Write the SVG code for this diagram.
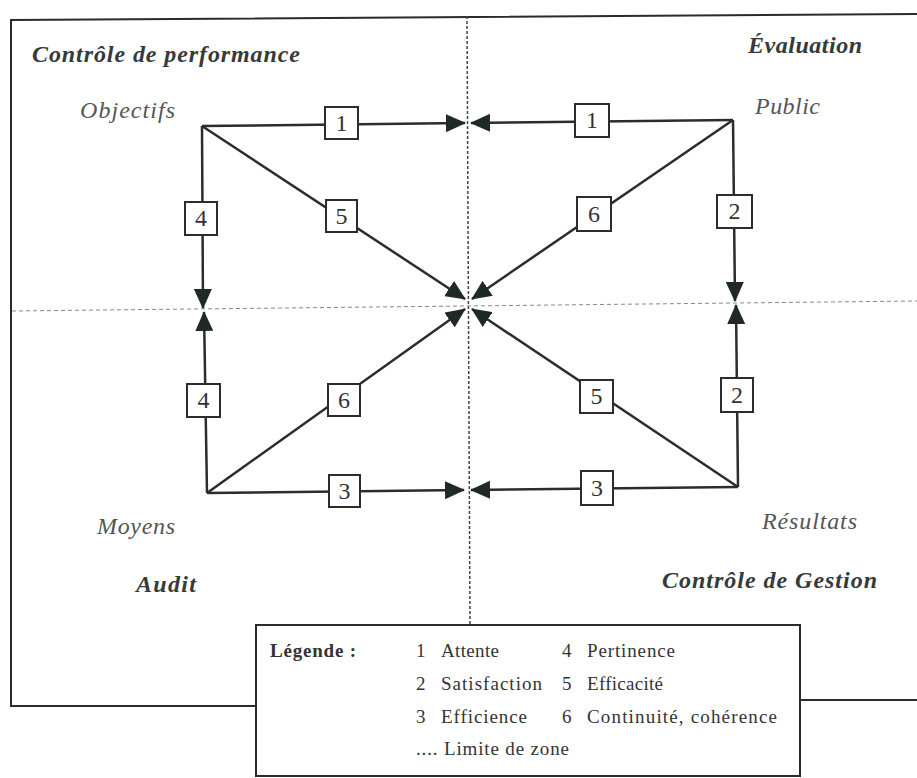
<svg xmlns="http://www.w3.org/2000/svg" width="917" height="778" viewBox="0 0 917 778">
<style>
.frame{fill:none;stroke:#2b2b2b;stroke-width:2}
.zone{fill:none;stroke:#444;stroke-width:1.5;stroke-dasharray:3 2}
.zoneh{fill:none;stroke:#888;stroke-width:1;stroke-dasharray:4 3}
.edge{fill:none;stroke:#2a2d2a;stroke-width:2.5}
.lbl rect{fill:#fff;stroke:#2a2d2a;stroke-width:2}
.lbl text{font-family:"Liberation Serif",serif;font-size:24px;fill:#333;text-anchor:middle}
.title{font-family:"Liberation Serif",serif;font-weight:bold;font-style:italic;font-size:24px;fill:#353a3a}
.node{font-family:"Liberation Serif",serif;font-style:italic;font-size:24px;fill:#555}
.leg{font-family:"Liberation Serif",serif;font-size:19px;fill:#333}
.legb{font-family:"Liberation Serif",serif;font-size:19px;font-weight:bold;fill:#333}
</style>
<defs>
<marker id="ah" viewBox="0 0 20 18" refX="19" refY="9" markerWidth="20" markerHeight="18" markerUnits="userSpaceOnUse" orient="auto">
<path d="M0,0 L20,9 L0,18 z" fill="#1f2a24"/>
</marker>
</defs>
<rect width="917" height="778" fill="#fff"/>
<g id="frame">
<path class="frame" d="M917,14 L11,20 L11,706 L256,706"/>
<path class="frame" d="M800,700 L917,700"/>
</g>
<g id="zones">
<line class="zone" x1="467" y1="16" x2="470" y2="625"/>
<line class="zoneh" x1="12" y1="311" x2="917" y2="301"/>
</g>
<g id="connectors">
<line class="edge" x1="202" y1="126" x2="465" y2="123" marker-end="url(#ah)"/>
<line class="edge" x1="733" y1="120" x2="471" y2="123" marker-end="url(#ah)"/>
<line class="edge" x1="202" y1="126" x2="203" y2="308" marker-end="url(#ah)"/>
<line class="edge" x1="207" y1="493" x2="204" y2="312" marker-end="url(#ah)"/>
<line class="edge" x1="733" y1="120" x2="735" y2="301" marker-end="url(#ah)"/>
<line class="edge" x1="738" y1="487" x2="736" y2="305" marker-end="url(#ah)"/>
<line class="edge" x1="202" y1="126" x2="465" y2="299" marker-end="url(#ah)"/>
<line class="edge" x1="733" y1="120" x2="472" y2="299" marker-end="url(#ah)"/>
<line class="edge" x1="207" y1="493" x2="465" y2="309" marker-end="url(#ah)"/>
<line class="edge" x1="738" y1="487" x2="472" y2="309" marker-end="url(#ah)"/>
<line class="edge" x1="207" y1="493" x2="464" y2="490" marker-end="url(#ah)"/>
<line class="edge" x1="738" y1="487" x2="471" y2="490" marker-end="url(#ah)"/>
</g>
<g id="labels">
<g class="lbl" id="l1a"><rect x="325" y="107" width="33" height="32"/><text x="341.5" y="131">1</text></g>
<g class="lbl" id="l1b"><rect x="575" y="104" width="34" height="33"/><text x="592" y="128">1</text></g>
<g class="lbl" id="l4a"><rect x="185" y="202" width="32" height="33"/><text x="201" y="226">4</text></g>
<g class="lbl" id="l4b"><rect x="187" y="384" width="33" height="33"/><text x="203.5" y="408">4</text></g>
<g class="lbl" id="l5a"><rect x="326" y="200" width="31" height="32"/><text x="341.5" y="224">5</text></g>
<g class="lbl" id="l6a"><rect x="577" y="197" width="34" height="34"/><text x="594" y="222">6</text></g>
<g class="lbl" id="l2a"><rect x="717" y="195" width="35" height="33"/><text x="734.5" y="219">2</text></g>
<g class="lbl" id="l6b"><rect x="328" y="384" width="32" height="32"/><text x="344" y="408">6</text></g>
<g class="lbl" id="l3a"><rect x="329" y="475" width="31" height="32"/><text x="344.5" y="499">3</text></g>
<g class="lbl" id="l5b"><rect x="580" y="380" width="33" height="33"/><text x="596.5" y="404">5</text></g>
<g class="lbl" id="l2b"><rect x="721" y="378" width="32" height="34"/><text x="737" y="403">2</text></g>
<g class="lbl" id="l3b"><rect x="581" y="471" width="32" height="34"/><text x="597" y="496">3</text></g>
</g>
<g id="titles">
<text class="title" x="32" y="62" textLength="268">Contrôle de performance</text>
<text class="title" x="748" y="53" textLength="114">Évaluation</text>
<text class="title" x="136" y="592" textLength="60">Audit</text>
<text class="title" x="662" y="588" textLength="215">Contrôle de Gestion</text>
</g>
<g id="n-objectifs"><text class="node" x="80" y="118" textLength="95">Objectifs</text></g>
<g id="n-public"><text class="node" x="755" y="114" textLength="65">Public</text></g>
<g id="n-moyens"><text class="node" x="97" y="534" textLength="78">Moyens</text></g>
<g id="n-resultats"><text class="node" x="762" y="529" textLength="95">Résultats</text></g>
<g id="legend">
<rect x="256" y="625" width="544" height="151" fill="#fff" stroke="#2b2b2b" stroke-width="2"/>
<text class="legb" x="270" y="657" textLength="86">Légende :</text>
<text class="leg" x="416" y="657">1</text><text class="leg" x="441" y="657" textLength="58">Attente</text>
<text class="leg" x="562" y="657">4</text><text class="leg" x="587" y="657" textLength="88">Pertinence</text>
<text class="leg" x="416" y="690">2</text><text class="leg" x="441" y="690" textLength="101">Satisfaction</text>
<text class="leg" x="562" y="690">5</text><text class="leg" x="587" y="690" textLength="76">Efficacité</text>
<text class="leg" x="416" y="723">3</text><text class="leg" x="441" y="723" textLength="86">Efficience</text>
<text class="leg" x="562" y="723">6</text><text class="leg" x="587" y="723" textLength="190">Continuité, cohérence</text>
<text class="leg" x="416" y="755" textLength="153">.... Limite de zone</text>
</g>
</svg>
